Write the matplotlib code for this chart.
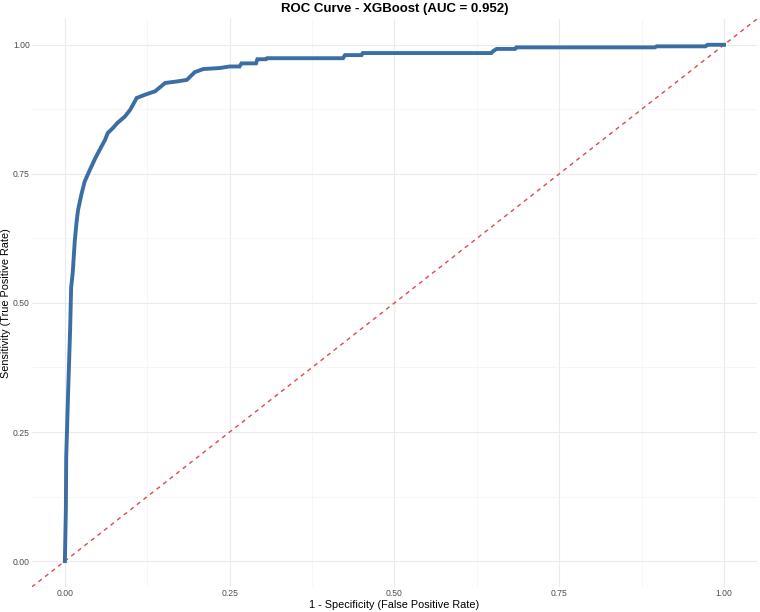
import matplotlib
matplotlib.use("Agg")
import matplotlib.pyplot as plt
import numpy as np

plt.rcParams['font.family'] = ['Liberation Sans', 'DejaVu Sans']

fpr = [0.0, 0.0015, 0.002, 0.005, 0.008, 0.0095, 0.012, 0.015, 0.018, 0.020,
       0.025, 0.030, 0.038, 0.046, 0.053, 0.061, 0.065, 0.073, 0.080, 0.091,
       0.099, 0.109, 0.121, 0.137, 0.152, 0.170, 0.185, 0.197, 0.210, 0.235,
       0.250, 0.265, 0.268, 0.290, 0.292, 0.305, 0.307, 0.422, 0.425, 0.450,
       0.452, 0.647, 0.650, 0.655, 0.683, 0.685, 0.895, 0.898, 0.972, 0.975, 1.0]
tpr = [0.0, 0.10, 0.20, 0.33, 0.45, 0.53, 0.56, 0.62, 0.66, 0.68,
       0.71, 0.735, 0.758, 0.78, 0.797, 0.816, 0.829, 0.839, 0.849, 0.861,
       0.874, 0.897, 0.903, 0.910, 0.926, 0.929, 0.932, 0.947, 0.953, 0.955,
       0.958, 0.958, 0.964, 0.964, 0.972, 0.972, 0.974, 0.974, 0.980, 0.980,
       0.984, 0.984, 0.988, 0.992, 0.992, 0.995, 0.995, 0.997, 0.997, 1.0, 1.0]
ticks = [0.0, 0.25, 0.5, 0.75, 1.0]
tick_labels = ["0.00", "0.25", "0.50", "0.75", "1.00"]
minor_ticks = [0.125, 0.375, 0.625, 0.875]

fig = plt.figure(figsize=(7.6, 6.12), dpi=100)
ax = fig.add_axes([0.042, 0.041, 0.954, 0.928])
ax.set_xlim(-0.05, 1.05)
ax.set_ylim(-0.05, 1.05)

for t in ticks:
    ax.axvline(t, color='#EBEBEB', lw=0.8, zorder=0)
    ax.axhline(t, color='#EBEBEB', lw=0.8, zorder=0)
for t in minor_ticks:
    ax.axvline(t, color='#F3F3F3', lw=0.5, zorder=0)
    ax.axhline(t, color='#F3F3F3', lw=0.5, zorder=0)

ax.plot(fpr, tpr, color='#3B6EA5', lw=2.8, solid_joinstyle='miter', zorder=3)
ax.plot([-0.05, 1.05], [-0.05, 1.05], color='#E0474C', lw=1.0,
        linestyle=(0, (3, 3)), zorder=2)

for s in ax.spines.values():
    s.set_visible(False)
ax.set_xticks(ticks)
ax.set_xticklabels(tick_labels)
ax.set_yticks(ticks)
ax.set_yticklabels(tick_labels)
ax.tick_params(length=0, labelsize=6.2, labelcolor='#4D4D4D', pad=1.5)
ax.set_xlabel("1 - Specificity (False Positive Rate)", fontsize=7.8, labelpad=1.5)
ax.set_ylabel("Sensitivity (True Positive Rate)", fontsize=7.8, labelpad=1.5)
ax.set_title("ROC Curve - XGBoost (AUC = 0.952)", fontsize=9.5,
             fontweight='bold', pad=5)

fig.savefig("out.png", dpi=100)
